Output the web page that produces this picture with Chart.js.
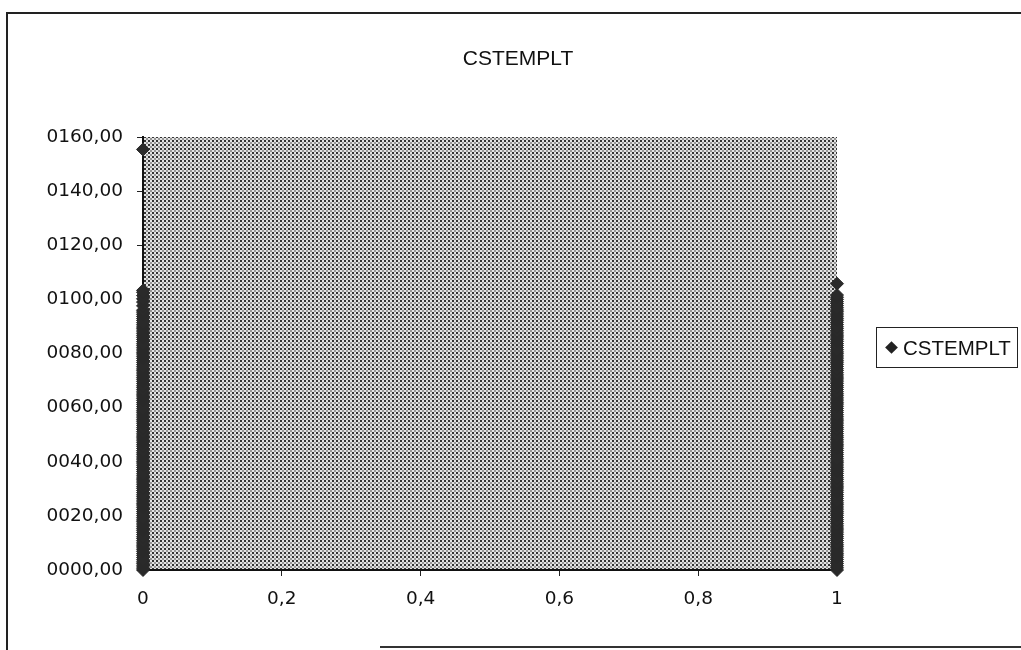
<!DOCTYPE html>
<html>
<head>
<meta charset="utf-8">
<script src="https://cdn.jsdelivr.net/npm/chart.js@4"></script>
<style>
  html, body { margin: 0; padding: 0; background: #fff; }
  #wrap { position: relative; width: 1021px; height: 650px; overflow: hidden; }
  #frame { position: absolute; left: 6px; top: 12px; width: 1100px; height: 700px;
           border-left: 2px solid #222; border-top: 2px solid #222; }
  #frameBottom { position: absolute; left: 380px; top: 646px; width: 700px; height: 0;
                 border-top: 2px solid #333; }
  #title { position: absolute; left: 408px; width: 220px; top: 46px; text-align: center;
           font: 21px "Liberation Sans", Arial, sans-serif; color: #111; }
  #legend { position: absolute; left: 876px; top: 327px; width: 142px; height: 41px;
            border: 1.5px solid #222; box-sizing: border-box;
            font: 20.5px "Liberation Sans", Arial, sans-serif; color: #111; }
  #legend .mark { position: absolute; left: 10px; top: 15px; width: 9px; height: 9px;
                  background: #222; transform: rotate(45deg); }
  #legend .txt { position: absolute; left: 26px; top: 8px; }
  canvas { position: absolute; left: 0; top: 0; }
</style>
</head>
<body>
<div id="wrap">
  <div id="frame"></div>
  <div id="frameBottom"></div>
  <canvas id="c" width="1021" height="650"></canvas>
  <div id="title">CSTEMPLT</div>
  <div id="legend"><div class="mark"></div><div class="txt">CSTEMPLT</div></div>
</div>
<script>
// CSTEMPLT readings: flag value 0 (left column) and 1 (right column)
const seriesName = 'CSTEMPLT';
const xGroupA = 0;
const xGroupB = 1;
const valuesA = [0, 0.7, 1.5, 2.3, 3.0, 3.8, 4.6, 5.4, 6.1, 6.9, 7.7, 8.5, 9.2, 10.0,
  10.8, 11.6, 12.3, 13.1, 13.9, 14.7, 15.4, 16.2, 17.0, 17.8, 18.5, 19.3, 20.1, 20.9,
  21.6, 22.4, 23.2, 24.0, 24.7, 25.5, 26.3, 27.1, 27.8, 28.6, 29.4, 30.2, 30.9, 31.7,
  32.5, 33.3, 34.0, 34.8, 35.6, 36.4, 37.1, 37.9, 38.7, 39.5, 40.2, 41.0, 41.8, 42.6,
  43.3, 44.1, 44.9, 45.7, 46.4, 47.2, 48.0, 48.8, 49.5, 50.3, 51.1, 51.9, 52.6, 53.4,
  54.2, 55.0, 55.7, 56.5, 57.3, 58.1, 58.8, 59.6, 60.4, 61.2, 61.9, 62.7, 63.5, 64.3,
  65.0, 65.8, 66.6, 67.4, 68.1, 68.9, 69.7, 70.5, 71.2, 72.0, 72.8, 73.6, 74.3, 75.1,
  75.9, 76.7, 77.4, 78.2, 79.0, 79.8, 80.5, 81.3, 82.1, 82.9, 83.6, 84.4, 85.2, 86.0,
  86.7, 87.5, 88.3, 89.1, 89.8, 90.6, 91.4, 92.2, 92.9, 93.7, 94.5, 95.3, 96.0, 97.6,
  99.0, 100.2, 101.4, 102.6, 103.3, 155.4];
const valuesB = [0, 0.8, 1.6, 2.4, 3.1, 3.9, 4.7, 5.5, 6.2, 7.0, 7.8, 8.6, 9.3, 10.1,
  10.9, 11.7, 12.4, 13.2, 14.0, 14.8, 15.5, 16.3, 17.1, 17.9, 18.6, 19.4, 20.2, 21.0,
  21.7, 22.5, 23.3, 24.1, 24.8, 25.6, 26.4, 27.2, 27.9, 28.7, 29.5, 30.3, 31.0, 31.8,
  32.6, 33.4, 34.1, 34.9, 35.7, 36.5, 37.2, 38.0, 38.8, 39.6, 40.3, 41.1, 41.9, 42.7,
  43.4, 44.2, 45.0, 45.8, 46.5, 47.3, 48.1, 48.9, 49.6, 50.4, 51.2, 52.0, 52.7, 53.5,
  54.3, 55.1, 55.8, 56.6, 57.4, 58.2, 58.9, 59.7, 60.5, 61.3, 62.0, 62.8, 63.6, 64.4,
  65.1, 65.9, 66.7, 67.5, 68.2, 69.0, 69.8, 70.6, 71.3, 72.1, 72.9, 73.7, 74.4, 75.2,
  76.0, 76.8, 77.5, 78.3, 79.1, 79.9, 80.6, 81.4, 82.2, 83.0, 83.7, 84.5, 85.3, 86.1,
  86.8, 87.6, 88.4, 89.2, 89.9, 90.7, 91.5, 92.3, 93.0, 93.8, 94.6, 95.4, 96.1, 96.9,
  97.7, 98.5, 99.2, 100.0, 100.8, 101.6, 105.8];
const yTickLabels = ['0000,00', '0020,00', '0040,00', '0060,00', '0080,00',
  '0100,00', '0120,00', '0140,00', '0160,00'];
const xTickLabels = ['0', '0,2', '0,4', '0,6', '0,8', '1'];

const points = valuesA.map(v => ({ x: xGroupA, y: v }))
  .concat(valuesB.map(v => ({ x: xGroupB, y: v })));

// stippled fill for the plot area
function makeStipple(ctx) {
  const t = document.createElement('canvas');
  t.width = 4; t.height = 4;
  const g = t.getContext('2d');
  g.fillStyle = '#e2e2e2'; g.fillRect(0, 0, 4, 4);
  g.fillStyle = '#333333'; g.fillRect(0, 0, 2, 2);
  g.fillStyle = '#959595'; g.fillRect(2, 2, 2, 2);
  return ctx.createPattern(t, 'repeat');
}

const stipplePlugin = {
  id: 'stipple',
  beforeDraw(chart) {
    const { ctx, chartArea: a } = chart;
    ctx.save();
    ctx.fillStyle = makeStipple(ctx);
    ctx.fillRect(a.left, a.top, a.right - a.left, a.bottom - a.top);
    ctx.restore();
  }
};

const tickFont = { family: '"DejaVu Sans", sans-serif', size: 18.5 };

new Chart(document.getElementById('c'), {
  type: 'scatter',
  data: {
    datasets: [{
      label: seriesName,
      data: points,
      clip: false,
      pointStyle: 'rectRot',
      pointRadius: 6.5,
      pointHoverRadius: 6.5,
      backgroundColor: '#2a2a2a',
      borderColor: '#2a2a2a',
      borderWidth: 1
    }]
  },
  options: {
    responsive: false,
    animation: false,
    layout: { padding: { top: 137, right: 184, bottom: 0, left: 0 } },
    plugins: { legend: { display: false }, title: { display: false }, tooltip: { enabled: false } },
    scales: {
      x: {
        type: 'linear', min: 0, max: 1,
        afterFit(s) { s.height = 80; },
        afterBuildTicks(s) { s.ticks = xTickLabels.map((_, i) => ({ value: i * 0.2 })); },
        ticks: { color: '#111', font: tickFont, padding: 12, maxRotation: 0,
                 callback: (v, i) => xTickLabels[i] },
        grid: { drawOnChartArea: false, drawTicks: true, tickLength: 6, color: '#222' },
        border: { color: '#111', width: 2 }
      },
      y: {
        min: 0, max: 160,
        afterFit(s) { s.width = 143; },
        afterBuildTicks(s) { s.ticks = yTickLabels.map((_, i) => ({ value: i * 20 })); },
        ticks: { color: '#111', font: tickFont, padding: 14,
                 callback: (v, i) => yTickLabels[i] },
        grid: { drawOnChartArea: false, drawTicks: true, tickLength: 6, color: '#222' },
        border: { color: '#111', width: 2 }
      }
    }
  },
  plugins: [stipplePlugin]
});
</script>
</body>
</html>
